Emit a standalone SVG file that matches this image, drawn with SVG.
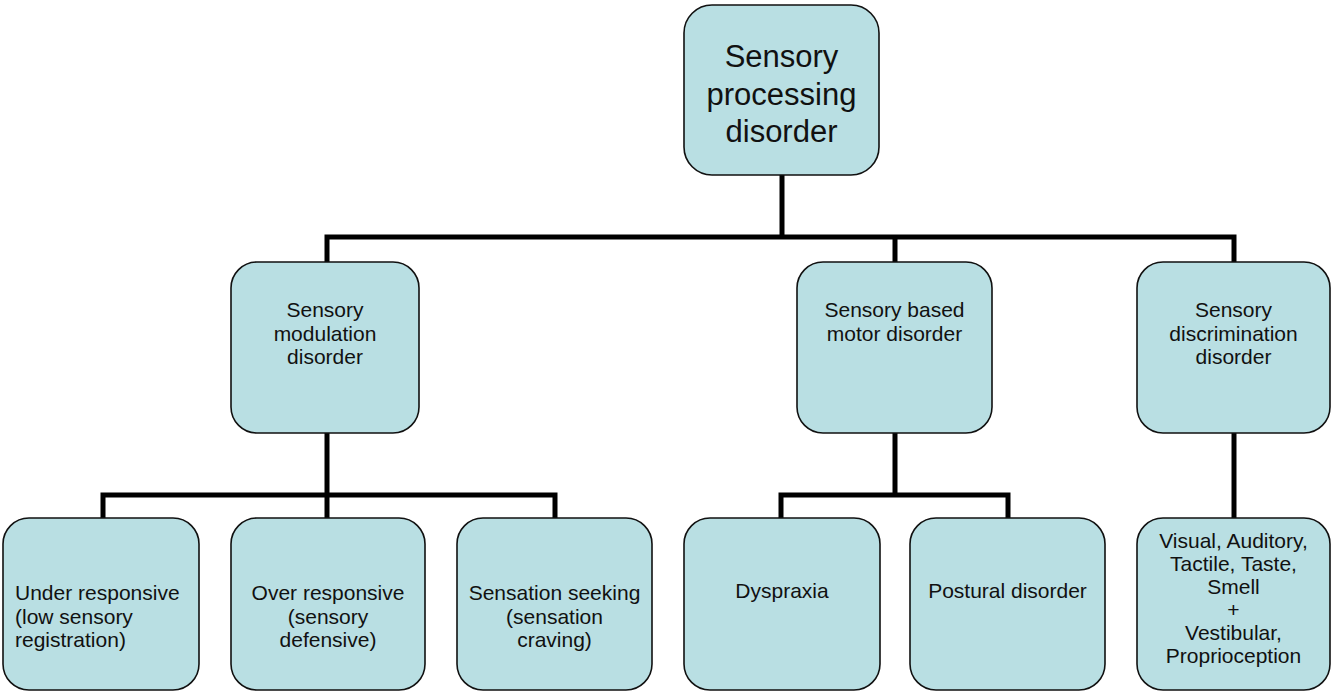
<svg xmlns="http://www.w3.org/2000/svg" width="1331" height="693" viewBox="0 0 1331 693">
<style>
.box{fill:#b9dfe3;stroke:#111;stroke-width:1.6}
.t{font-family:"Liberation Sans",Arial,sans-serif;font-size:21px;fill:#111;text-anchor:middle}
.tl{text-anchor:start}
.big{font-size:31px}
.c{stroke:#000;stroke-width:5;fill:none;stroke-linecap:square}
</style>
<rect width="1331" height="693" fill="#fff"/>
<g id="connectors">
<path class="c" d="M782 176V237M327 237H1234M327 237V261M895 237V261M1234 237V261"/>
<path class="c" d="M327 434V517M103 495H555M103 495V517M555 495V517"/>
<path class="c" d="M895 434V495M781 495H1008M781 495V517M1008 495V517"/>
<path class="c" d="M1234 434V517"/>
</g>
<g id="root">
<rect class="box" x="684" y="5" width="195" height="170" rx="28"/>
<text class="t big" x="781.5" y="67">Sensory</text>
<text class="t big" x="781.5" y="104.5">processing</text>
<text class="t big" x="781.5" y="142">disorder</text>
</g>
<g id="modulation">
<rect class="box" x="231" y="262" width="188" height="171" rx="26"/>
<text class="t" x="325" y="317">Sensory</text>
<text class="t" x="325" y="340.5">modulation</text>
<text class="t" x="325" y="364">disorder</text>
</g>
<g id="motor">
<rect class="box" x="797" y="262" width="195" height="171" rx="26"/>
<text class="t" x="894.5" y="317">Sensory based</text>
<text class="t" x="894.5" y="340.5">motor disorder</text>
</g>
<g id="discrimination">
<rect class="box" x="1137" y="262" width="193" height="171" rx="26"/>
<text class="t" x="1233.5" y="317">Sensory</text>
<text class="t" x="1233.5" y="340.5">discrimination</text>
<text class="t" x="1233.5" y="364">disorder</text>
</g>
<g id="under">
<rect class="box" x="3" y="518" width="196" height="172" rx="26"/>
<text class="t tl" x="15" y="600">Under responsive</text>
<text class="t tl" x="15" y="623.5">(low sensory</text>
<text class="t tl" x="15" y="647">registration)</text>
</g>
<g id="over">
<rect class="box" x="231" y="518" width="194" height="172" rx="26"/>
<text class="t" x="328" y="600">Over responsive</text>
<text class="t" x="328" y="623.5">(sensory</text>
<text class="t" x="328" y="647">defensive)</text>
</g>
<g id="seeking">
<rect class="box" x="457" y="518" width="195" height="172" rx="26"/>
<text class="t" x="554.5" y="600">Sensation seeking</text>
<text class="t" x="554.5" y="623.5">(sensation</text>
<text class="t" x="554.5" y="647">craving)</text>
</g>
<g id="dyspraxia">
<rect class="box" x="684" y="518" width="196" height="172" rx="26"/>
<text class="t" x="782" y="598">Dyspraxia</text>
</g>
<g id="postural">
<rect class="box" x="910" y="518" width="195" height="172" rx="26"/>
<text class="t" x="1007.5" y="598">Postural disorder</text>
</g>
<g id="sensesbox">
<rect class="box" x="1137" y="518" width="193" height="172" rx="26"/>
<text class="t" x="1233.5" y="548">Visual, Auditory,</text>
<text class="t" x="1233.5" y="571">Tactile, Taste,</text>
<text class="t" x="1233.5" y="594">Smell</text>
<text class="t" x="1233.5" y="617">+</text>
<text class="t" x="1233.5" y="640">Vestibular,</text>
<text class="t" x="1233.5" y="663">Proprioception</text>
</g>
</svg>
